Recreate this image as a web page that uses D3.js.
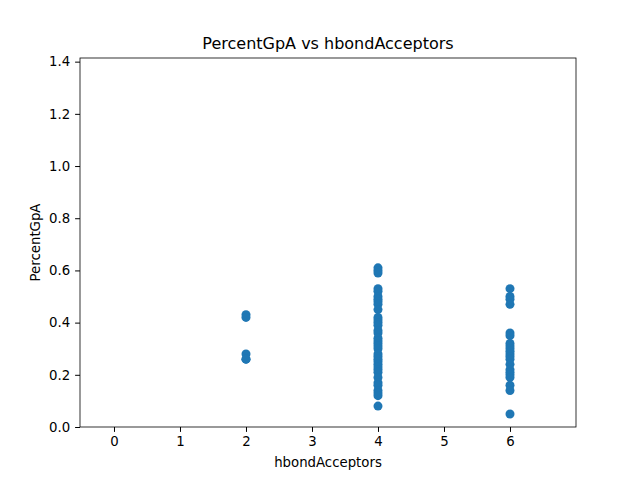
<!DOCTYPE html>
<html><head><meta charset="utf-8">
<script src="https://cdn.jsdelivr.net/npm/d3@7"></script>
<style>body{margin:0;background:#fff}text{font-family:"DejaVu Sans",sans-serif}</style>
</head><body><svg id="c" width="640" height="480"></svg>
<script>
// values, per hbondAcceptors group
var acc2 = [0.43, 0.42, 0.28, 0.26, 0.26];
var acc4 = [0.61, 0.60, 0.59, 0.53, 0.52, 0.50, 0.49, 0.48, 0.47, 0.45, 0.42, 0.41, 0.40, 0.39,
	0.37, 0.36, 0.34, 0.33, 0.32, 0.31, 0.30, 0.28, 0.27, 0.26, 0.25, 0.24, 0.23, 0.22, 0.21,
	0.19, 0.17, 0.16, 0.14, 0.13, 0.12, 0.08];
var acc6 = [0.53, 0.50, 0.49, 0.47, 0.36, 0.35, 0.32, 0.31, 0.30, 0.29, 0.28, 0.27, 0.26, 0.24,
	0.22, 0.21, 0.20, 0.19, 0.16, 0.14, 0.05];
var xTicks = [0, 1, 2, 3, 4, 5, 6];
var yTicks = [0, 0.2, 0.4, 0.6, 0.8, 1.0, 1.2, 1.4];

var points = [];
[[2, acc2], [4, acc4], [6, acc6]].forEach(function(g) {
	g[1].forEach(function(v) { points.push({x: g[0], y: v}); });
});

var L = 80, R = 576, T = 58, B = 427;
var x = d3.scaleLinear().domain([-0.515, 7.0]).range([L, R]);
var y = d3.scaleLinear().domain([0, 1.414]).range([B, T]);
var svg = d3.select("#c");

svg.append("g").attr("transform", "translate(0," + B + ")")
	.call(d3.axisBottom(x).tickValues(xTicks).tickFormat(d3.format("d")).tickSizeOuter(0).tickSize(4.9).tickPadding(4.9));
svg.append("g").attr("transform", "translate(" + L + ",0)")
	.call(d3.axisLeft(y).tickValues(yTicks).tickFormat(d3.format(".1f")).tickSizeOuter(0).tickSize(4.9).tickPadding(4.9));
svg.selectAll(".tick text").attr("font-size", 13.3).attr("fill", "#000").style("font-family", "DejaVu Sans");
svg.selectAll(".domain").remove();

svg.selectAll("circle").data(points).enter().append("circle")
	.attr("cx", function(d) { return x(d.x); })
	.attr("cy", function(d) { return y(d.y); })
	.attr("r", 4.5).attr("fill", "#1f77b4");

svg.append("rect").attr("x", L).attr("y", T).attr("width", R - L).attr("height", B - T)
	.attr("fill", "none").attr("stroke", "#000").attr("stroke-width", 0.8);

svg.append("text").attr("x", (L + R) / 2).attr("y", 49).attr("text-anchor", "middle")
	.attr("font-size", 16).text("PercentGpA vs hbondAcceptors");
svg.append("text").attr("x", (L + R) / 2).attr("y", 467).attr("text-anchor", "middle")
	.attr("font-size", 13.3).text("hbondAcceptors");
svg.append("text").attr("transform", "translate(40," + (T + B) / 2 + ") rotate(-90)")
	.attr("text-anchor", "middle").attr("font-size", 13.3).text("PercentGpA");
</script></body></html>
